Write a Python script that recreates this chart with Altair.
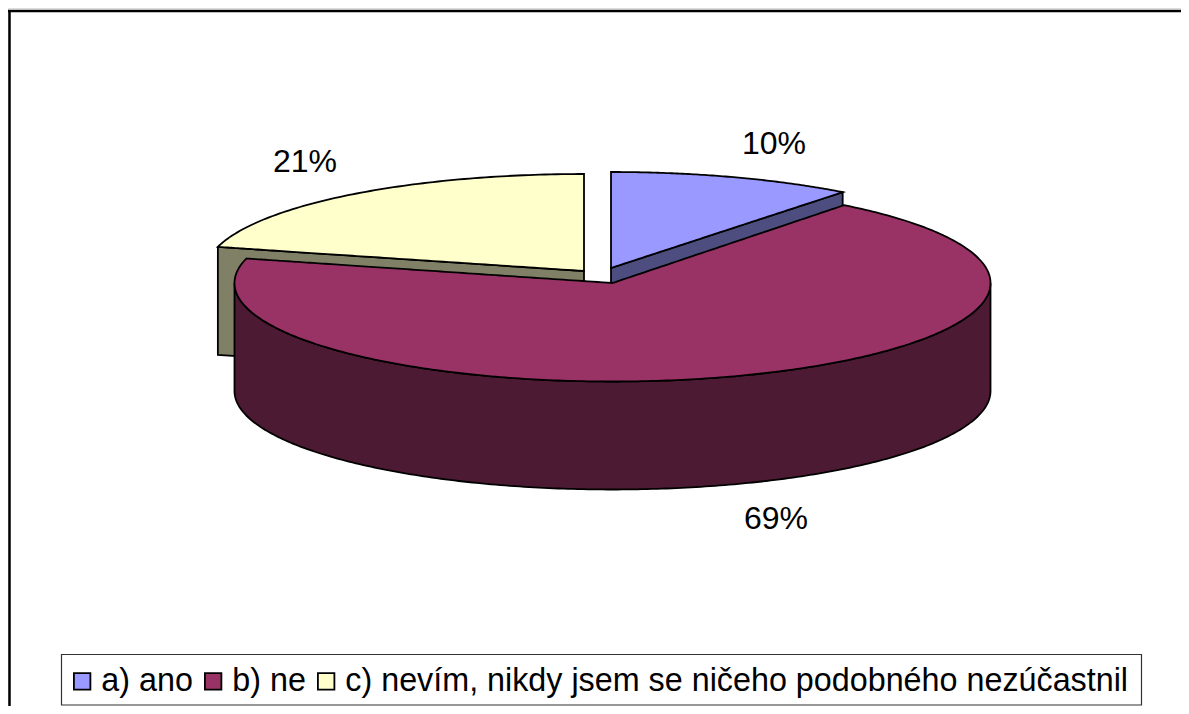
import math
import pandas as pd
import altair as alt

categories = ["a) ano", "b) ne", "c) nevím, nikdy jsem se ničeho podobného nezúčastnil"]
shares = [10.5, 68.5, 21.0]
percent_labels = ["10%", "69%", "21%"]
top_colors = ["#9999FF", "#993366", "#FFFFCC"]
wall_colors = ["#4D4D80", "#4D1A33", "#808066"]
label_x = [774, 776, 305]
label_y = [144, 519, 162]

X0, X1, Y0, Y1 = 8, 1181, 8, 706
W, H = X1 - X0, Y1 - Y0
RX, DEPTH = 378, 108
RYS = [96, 98.5, 97]
CENTERS = [(611, 268), (612.5, 283), (584, 271)]   # exploded pie centres, per slice
F = "Liberation Sans"

X_ENC = dict(scale=alt.Scale(domain=[X0, X1], nice=False, zero=False), axis=None)
Y_ENC = dict(scale=alt.Scale(domain=[Y1, Y0], nice=False, zero=False), axis=None)


def ell(c, a_deg, ry):
    a = math.radians(a_deg)
    return c[0] + RX * math.sin(a), c[1] - ry * math.cos(a)


def line_y(p, q, x):
    return p[1] + (q[1] - p[1]) * (x - p[0]) / (q[0] - p[0])


def area(pts, color, cat=None):
    df = pd.DataFrame(pts, columns=["x", "y", "y2"])
    df["cat"] = cat or ""
    enc = dict(
        x=alt.X("x:Q", **X_ENC),
        y=alt.Y("y:Q", **Y_ENC),
        y2="y2:Q",
    )
    kw = dict(stroke="black", strokeWidth=1.8, interpolate="linear")
    if cat:
        enc["color"] = alt.Color(
            "cat:N",
            scale=alt.Scale(domain=categories, range=top_colors),
            sort=categories,
            legend=alt.Legend(
                title=None, orient="none", legendX=58, legendY=657, direction="horizontal",
                symbolType="square", symbolSize=272, symbolStrokeColor="black",
                symbolStrokeWidth=1.8, symbolOpacity=1, labelFont=F, labelFontSize=32.3,
                labelColor="black", labelLimit=900,
                padding=0, columnPadding=4, labelOffset=3, rowPadding=0,
                symbolOffset=0,
            ),
        )
        return alt.Chart(df).mark_area(**kw).encode(**enc)
    return alt.Chart(df).mark_area(color=color, **kw).encode(**enc)


total = sum(shares)
a_end = shares[0] / total * 360                # blue: 0 .. a_end
y_start = 360 - shares[2] / total * 360        # yellow: y_start .. 360
c_b, c_r, c_y = CENTERS
ry_b, ry_r, ry_y = RYS
N = 90

b_tip = ell(c_b, a_end, ry_b)
blue = []
for i in range(N + 1):
    px, py = ell(c_b, a_end * i / N, ry_b)
    blue.append((px, py, line_y(c_b, b_tip, px)))
blue_wall = [(c_b[0], c_b[1], c_b[1] + DEPTH), (b_tip[0], b_tip[1], b_tip[1] + DEPTH)]

y_tip = ell(c_y, y_start, ry_y)
yellow = []
for i in range(N + 1):
    px, py = ell(c_y, y_start + (360 - y_start) * i / N, ry_y)
    yellow.append((px, py, line_y(y_tip, c_y, px)))
yellow_wall = [(y_tip[0], y_tip[1], y_tip[1] + DEPTH), (c_y[0], c_y[1], c_y[1] + DEPTH)]

r_a = ell(c_r, a_end, ry_r)
r_b = ell(c_r, y_start, ry_r)


def half(x):
    return ry_r * math.sqrt(max(0, 1 - ((x - c_r[0]) / RX) ** 2))


def red_upper(x):
    if x <= r_b[0] or x >= r_a[0]:
        return c_r[1] - half(x)
    if x <= c_r[0]:
        return line_y(r_b, c_r, x)
    return line_y(c_r, r_a, x)


xs = [c_r[0] - RX * math.cos(math.pi * i / 240) for i in range(241)]
xs = sorted(set(xs + [r_a[0], r_b[0], c_r[0]]))
red = [(x, red_upper(x), c_r[1] + half(x)) for x in xs]
red_wall = [(x, c_r[1] + half(x), c_r[1] + half(x) + DEPTH) for x in xs]

frame = pd.DataFrame({"x": [X0, 9.5], "x2": [X1, 9.5], "y": [11, 10], "y2": [11, Y1]})
frame_layer = alt.Chart(frame).mark_rule(color="black", strokeWidth=2.5).encode(
    x=alt.X("x:Q", **X_ENC), x2="x2:Q", y=alt.Y("y:Q", **Y_ENC), y2="y2:Q",
)

box = pd.DataFrame({"x": [61.5], "x2": [1141.5], "y": [654.5], "y2": [705]})
box_layer = alt.Chart(box).mark_rect(filled=False, stroke="#333333", strokeWidth=1.2).encode(
    x=alt.X("x:Q", **X_ENC), x2="x2:Q", y=alt.Y("y:Q", **Y_ENC), y2="y2:Q",
)

lab = pd.DataFrame({"x": label_x, "y": label_y, "t": percent_labels})
texts = alt.Chart(lab).mark_text(font=F, fontSize=32, color="black").encode(
    x=alt.X("x:Q", **X_ENC), y=alt.Y("y:Q", **Y_ENC), text="t:N",
)

layers = [
    frame_layer,
    box_layer,
    area(blue_wall, wall_colors[0]),
    area(yellow_wall, wall_colors[2]),
    area(red_wall, wall_colors[1]),
    area(red, None, categories[1]),
    area(blue, None, categories[0]),
    area(yellow, None, categories[2]),
    texts,
]

chart = alt.layer(*layers).resolve_scale(color="shared").properties(
    width=W, height=H, padding=0, autosize=alt.AutoSizeParams(type="none"),
).configure_view(stroke=None).configure(background="white")

chart.save("out.html", embed_options={"renderer": "svg", "actions": False})
